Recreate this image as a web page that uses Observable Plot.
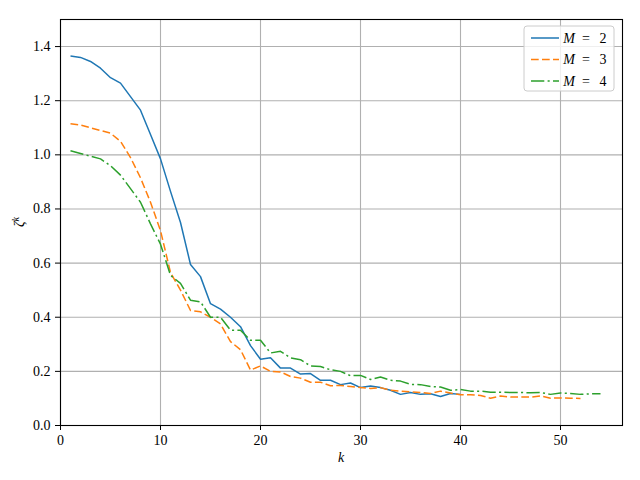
<!DOCTYPE html>
<html>
<head>
<meta charset="utf-8">
<script src="https://cdn.jsdelivr.net/npm/d3@7"></script>
<script src="https://cdn.jsdelivr.net/npm/@observablehq/plot@0.6"></script>
<style>
  html, body { margin: 0; padding: 0; background: #fff; }
  svg { font-family: "Liberation Serif", "DejaVu Serif", serif; }
</style>
</head>
<body>
<div id="chart"></div>
<script>
// Series values, index k = 1..n
const seriesNames = ["M = 2", "M = 3", "M = 4"];
const seriesColors = ["#1f77b4", "#ff7f0e", "#2ca02c"];
const seriesDash = ["none", "7.7,3.3", "13.3,3.3,2.1,3.3"];
const m2 = [1.365,1.36,1.345,1.32,1.285,1.265,1.215,1.165,1.075,0.985,
            0.865,0.75,0.595,0.55,0.45,0.43,0.40,0.365,0.295,0.245,
            0.25,0.212,0.212,0.19,0.192,0.167,0.167,0.151,0.157,0.14,
            0.146,0.14,0.13,0.115,0.122,0.115,0.117,0.107,0.118,0.115];
const m3 = [1.115,1.11,1.10,1.09,1.08,1.05,0.99,0.915,0.825,0.72,
            0.565,0.50,0.425,0.42,0.40,0.375,0.31,0.28,0.205,0.22,
            0.20,0.198,0.181,0.175,0.16,0.16,0.147,0.148,0.144,0.14,
            0.137,0.14,0.13,0.127,0.124,0.122,0.118,0.127,0.12,0.114,
            0.114,0.111,0.101,0.109,0.105,0.105,0.105,0.109,0.101,0.102,0.101,0.10];
const m4 = [1.015,1.005,0.995,0.985,0.96,0.925,0.875,0.825,0.745,0.67,
            0.555,0.525,0.463,0.457,0.40,0.40,0.352,0.352,0.315,0.315,
            0.268,0.274,0.25,0.243,0.22,0.218,0.206,0.20,0.184,0.185,
            0.17,0.179,0.167,0.164,0.152,0.151,0.144,0.142,0.13,0.133,
            0.127,0.127,0.123,0.123,0.122,0.122,0.121,0.122,0.115,0.12,0.118,0.115,0.117,0.117];
const xTicks = [0, 10, 20, 30, 40, 50];
const yTicks = [0, 0.2, 0.4, 0.6, 0.8, 1.0, 1.2, 1.4];

const FONT = "'Liberation Serif', 'DejaVu Serif', serif";
const allSeries = [m2, m3, m4];
const toRows = (arr) => arr.map((v, i) => ({k: i + 1, v}));

const marks = [
  Plot.gridX(xTicks, {stroke: "#b0b0b0", strokeOpacity: 1, strokeWidth: 1.1}),
  Plot.gridY(yTicks, {stroke: "#b0b0b0", strokeOpacity: 1, strokeWidth: 1.1}),
];
allSeries.forEach((arr, i) => {
  marks.push(Plot.line(toRows(arr), {
    x: "k", y: "v", stroke: seriesColors[i], strokeWidth: 1.5,
    strokeDasharray: seriesDash[i] === "none" ? null : seriesDash[i],
    strokeLinejoin: "round", strokeLinecap: "butt"
  }));
});
marks.push(
  Plot.axisX(xTicks, {tickSize: 5, tickPadding: 5, fontSize: 14, label: null, tickFormat: d => String(d), stroke: "#000"}),
  Plot.axisY(yTicks, {tickSize: 5, tickPadding: 5, fontSize: 14, label: null, tickFormat: d => d.toFixed(1), stroke: "#000"}),
  Plot.frame({stroke: "#000", strokeWidth: 1.1})
);

const svgEl = Plot.plot({
  width: 640, height: 480,
  marginLeft: 60, marginRight: 18, marginTop: 19, marginBottom: 55,
  x: {domain: [0, 56.2]},
  y: {domain: [0, 1.5]},
  style: {fontFamily: FONT, color: "#000", background: "#fff"},
  marks
});
document.getElementById("chart").appendChild(svgEl);

const svg = d3.select(svgEl);
// Axis labels
svg.append("text")
  .attr("x", 341).attr("y", 462)
  .attr("text-anchor", "middle")
  .attr("font-family", FONT)
  .attr("font-size", 14).attr("font-style", "italic")
  .attr("fill", "#000")
  .text("k");
const yl = svg.append("text")
  .attr("transform", "translate(24,222) rotate(-90)")
  .attr("text-anchor", "middle")
  .attr("font-family", FONT)
  .attr("font-size", 14).attr("font-style", "italic")
  .attr("fill", "#000");
yl.append("tspan").text("ζ");
yl.append("tspan").attr("dy", -5).attr("font-size", 10).text("k");

// Legend
const lg = svg.append("g").attr("transform", "translate(524,26)");
lg.append("rect").attr("width", 90).attr("height", 65).attr("rx", 3)
  .attr("fill", "#fff").attr("fill-opacity", 0.8)
  .attr("stroke", "#cccccc").attr("stroke-width", 1);
seriesNames.forEach((name, i) => {
  const y = 12 + i * 21.5;
  lg.append("line").attr("x1", 7).attr("x2", 35).attr("y1", y).attr("y2", y)
    .attr("stroke", seriesColors[i]).attr("stroke-width", 1.5)
    .attr("stroke-dasharray", seriesDash[i] === "none" ? null : seriesDash[i]);
  const t = lg.append("text").attr("y", y + 4.5)
    .attr("font-family", FONT)
    .attr("font-size", 14).attr("fill", "#000");
  const parts = name.split(" = ");
  t.append("tspan").attr("x", 45).attr("font-style", "italic").text(parts[0]);
  t.append("tspan").attr("x", 62).text("=");
  t.append("tspan").attr("x", 79).text(parts[1]);
});
</script>
</body>
</html>
